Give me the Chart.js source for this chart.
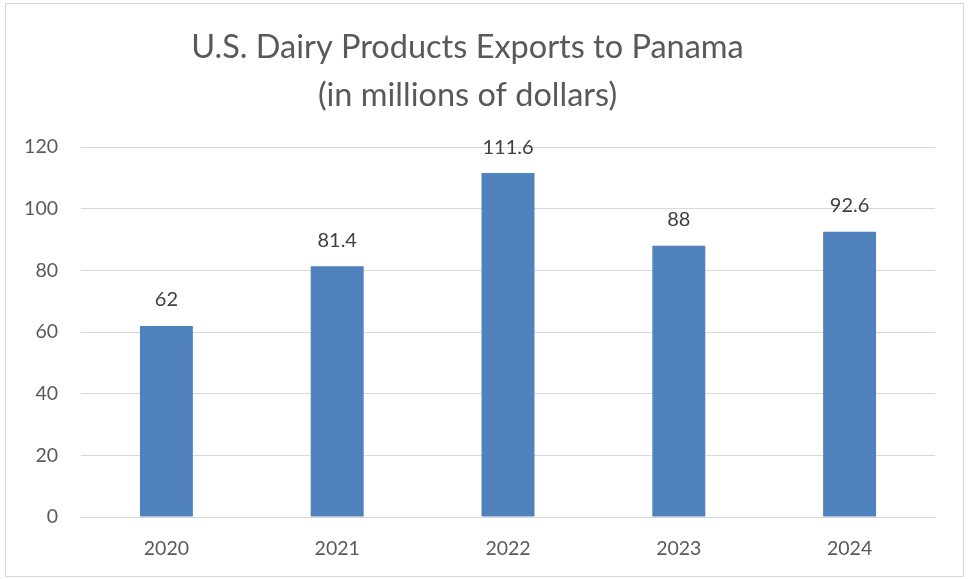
<!DOCTYPE html>
<html>
<head>
<meta charset="utf-8">
<script src="https://cdn.jsdelivr.net/npm/chart.js@4"></script>
<style>
  html, body { margin: 0; padding: 0; background: #fff; }
  #wrap { position: relative; width: 969px; height: 579px; }
</style>
</head>
<body>
<div id="wrap"><canvas id="dairyChart"></canvas></div>
<script>
// U.S. dairy exports to Panama
const years = ["2020", "2021", "2022", "2023", "2024"];
const exportsMillions = [62, 81.4, 111.6, 88, 92.6];
const yTicks = [0, 20, 40, 60, 80, 100, 120];

const fontFam = "Lato, 'Open Sans', sans-serif";

// light grey frame around the whole chart
const framePlugin = {
    id: "frame",
    beforeDraw(chart) {
        const ctx = chart.ctx;
        ctx.save();
        ctx.fillStyle = "#fff";
        ctx.fillRect(0, 0, chart.width, chart.height);
        ctx.strokeStyle = "#d9d9d9";
        ctx.lineWidth = 1;
        ctx.strokeRect(5.5, 3.5, 958, 573);
        ctx.restore();
    }
};

// value labels above the bars
const valueLabels = {
    id: "valueLabels",
    afterDatasetsDraw(chart) {
        const ctx = chart.ctx;
        ctx.save();
        ctx.font = "20px " + fontFam;
        ctx.fillStyle = "#404040";
        ctx.textAlign = "center";
        ctx.textBaseline = "middle";
        chart.getDatasetMeta(0).data.forEach((bar, i) => {
            ctx.fillText(String(exportsMillions[i]), bar.x, bar.y - 26);
        });
        ctx.restore();
    }
};

const dairyChart = new Chart(document.getElementById("dairyChart"), {
    type: "bar",
    data: {
        labels: years,
        datasets: [
            {
                label: "Exports",
                data: exportsMillions,
                backgroundColor: "#4F81BD",
                borderWidth: 0,
                barPercentage: 1,
                categoryPercentage: 0.31
            }
        ]
    },
    options: {
        responsive: true,
        maintainAspectRatio: false,
        animation: false,
        layout: { padding: { left: 0, right: 34, top: 0, bottom: 0 } },
        plugins: {
            legend: { display: false },
            tooltip: { enabled: false },
            title: {
                display: true,
                text: ["U.S. Dairy Products Exports to Panama", "(in millions of dollars)"],
                color: "#595959",
                font: { family: fontFam, size: 32.5, weight: "normal", lineHeight: 1.48 },
                padding: { top: 23, bottom: 28 }
            }
        },
        scales: {
            x: {
                grid: { display: false, drawTicks: false },
                border: { display: true, color: "#d9d9d9", width: 1 },
                ticks: { color: "#595959", font: { family: fontFam, size: 19.5 }, padding: 20 },
                afterFit(s) { s.height = 62; }
            },
            y: {
                min: 0,
                max: 120,
                afterBuildTicks(s) { s.ticks = yTicks.map(v => ({ value: v })); },
                grid: { color: "#d9d9d9", lineWidth: 1, drawTicks: false },
                border: { display: false },
                ticks: { color: "#595959", font: { family: fontFam, size: 19.5 }, padding: 23 },
                afterFit(s) { s.width = 81; }
            }
        }
    },
    plugins: [framePlugin, valueLabels]
});
</script>
</body>
</html>
